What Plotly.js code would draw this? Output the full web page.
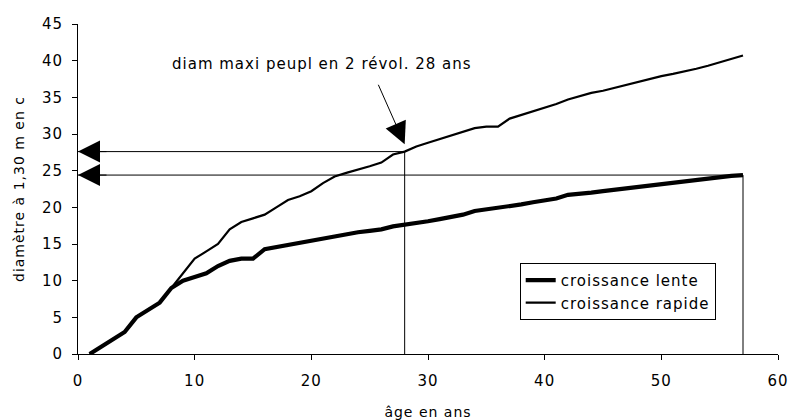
<!DOCTYPE html>
<html>
<head>
<meta charset="utf-8">
<script src="https://cdn.plot.ly/plotly-3.0.1.min.js"></script>
<style>
html, body { margin: 0; padding: 0; background: #fff; }
#chart { width: 789px; height: 420px; }
svg text { letter-spacing: 1px; }
</style>
</head>
<body>
<div id="chart"></div>
<script>
// Age (years)
const ages = [1,2,3,4,5,6,7,8,9,10,11,12,13,14,15,16,17,18,19,20,21,22,23,24,25,26,27,28,29,30,
  31,32,33,34,35,36,37,38,39,40,41,42,43,44,45,46,47,48,49,50,51,52,53,54,55,56,57];
// Diameter at 1.30 m, slow growth
const lente = [0,1,2,3,5,6,7,9,10,10.5,
  11,12,12.7,13,13,14.3,14.6,14.9,15.2,15.5,
  15.7,16,16.4,16.6,16.8,17,17.4,17.6,17.8,18.1,
  18.4,18.7,19,19.5,19.7,19.9,20.1,20.4,20.7,21,
  21.2,21.7,21.8,22,22.2,22.4,22.6,22.8,23,23.2,
  23.4,23.6,23.8,24,24.2,24.3,24.4];
// Diameter at 1.30 m, fast growth
const rapide = [0,1,2,3,5,6,7,9,11,13,
  14,15,17,18,18.5,19,20,21,21.5,22.2,
  23.3,24.2,24.7,25.1,25.6,26.1,27.2,27.6,28.3,28.8,
  29.3,29.8,30.3,30.8,31,31,32.1,32.6,33,33.5,
  34.1,34.7,35.2,35.6,35.9,36.3,36.7,37.2,37.5,37.9,
  38.2,38.5,38.9,39.3,39.8,40.3,40.7];
const seriesNames = ['croissance lente', 'croissance rapide'];
const ageRapide = 28;   // age at which fast growth reaches max diameter
const ageLente = 57;    // age at which slow growth reaches same diameter
const annotText = 'diam maxi peupl en 2 révol. 28 ans';
const xTitle = 'âge en ans';
const yTitle = 'diamètre à 1,30 m en c';
const xTicks = [0,10,20,30,40,50,60];
const yTicks = [0,5,10,15,20,25,30,35,40,45];

const dR = rapide[ages.indexOf(ageRapide)];
const dL = lente[ages.indexOf(ageLente)];

const FONT = 'DejaVu Sans, Arial, sans-serif';

const traces = [
  { x: ages, y: lente, name: seriesNames[0], mode: 'lines',
    line: { color: '#000', width: 4.2 } },
  { x: ages, y: rapide, name: seriesNames[1], mode: 'lines',
    line: { color: '#000', width: 2.2 } },
  { x: [0, ageRapide, ageRapide], y: [dR, dR, 0], mode: 'lines', showlegend: false,
    hoverinfo: 'skip', line: { color: '#000', width: 1 } },
  { x: [0, ageLente, ageLente], y: [dL, dL, 0], mode: 'lines', showlegend: false,
    hoverinfo: 'skip', line: { color: '#000', width: 1 } }
];

const arrowCommon = { text: '', showarrow: true, arrowhead: 2, arrowsize: 4.4,
  arrowwidth: 1, arrowcolor: '#000', xref: 'x', yref: 'y' };

const layout = {
  width: 789, height: 420,
  margin: { l: 78, r: 11, t: 24, b: 66 },
  paper_bgcolor: '#fff', plot_bgcolor: '#fff',
  font: { family: FONT, size: 15, color: '#000' },
  showlegend: true,
  legend: { x: 0.631, y: 0.276, xanchor: 'left', yanchor: 'top',
    bordercolor: '#000', borderwidth: 1, bgcolor: '#fff',
    font: { family: FONT, size: 15, color: '#000' } },
  xaxis: { range: [0, 60], tickvals: xTicks, showgrid: false, zeroline: false,
    showline: true, linecolor: '#000', linewidth: 1,
    ticks: 'outside', ticklen: 5, tickcolor: '#000', ticklabelstandoff: 8,
    tickfont: { family: FONT, size: 15 },
    title: { text: xTitle, font: { family: FONT, size: 14 }, standoff: 20 } },
  yaxis: { range: [0, 45], tickvals: yTicks, showgrid: false, zeroline: false,
    showline: true, linecolor: '#000', linewidth: 1,
    ticks: 'outside', ticklen: 5, tickcolor: '#000', ticklabelstandoff: 6,
    tickfont: { family: FONT, size: 15 },
    title: { text: yTitle, font: { family: FONT, size: 14 }, standoff: 14 } },
  annotations: [
    { x: 20.9, y: 39.6, xref: 'x', yref: 'y', text: annotText, showarrow: false,
      font: { family: FONT, size: 15, color: '#000' } },
    Object.assign({}, arrowCommon, { x: ageRapide, y: dR + 1, ax: -27, ay: -61 }),
    Object.assign({}, arrowCommon, { x: 0, y: dR, ax: 30, ay: 0 }),
    Object.assign({}, arrowCommon, { x: 0, y: dL, ax: 30, ay: 0 })
  ]
};

Plotly.newPlot('chart', traces, layout, { staticPlot: true, displayModeBar: false });
</script>
</body>
</html>
